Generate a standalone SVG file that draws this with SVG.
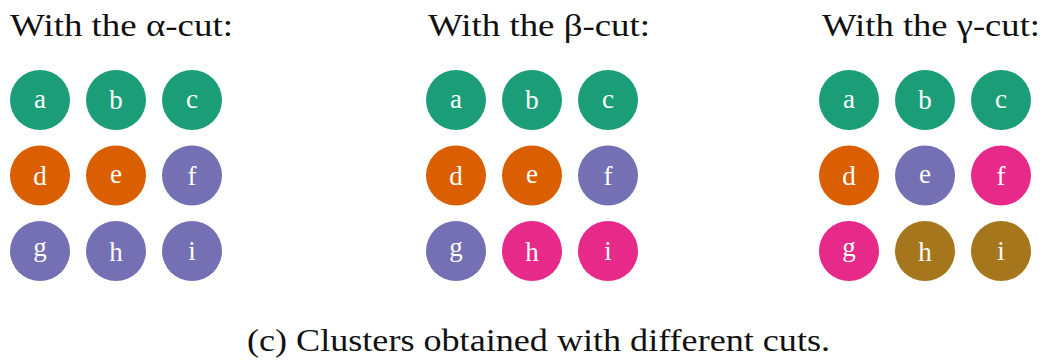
<svg xmlns="http://www.w3.org/2000/svg" width="1051" height="360" viewBox="0 0 1051 360">
<style>
.t{font-family:"Liberation Serif","DejaVu Serif",serif;fill:#111;font-size:31px}
.n text{font-family:"Liberation Serif","DejaVu Serif",serif;fill:#fff;font-size:27px;text-anchor:middle}
.g{fill:#1b9e77}.o{fill:#d95f02}.p{fill:#7570b3}.k{fill:#e7298a}.y{fill:#a6761d}
</style>
<rect width="1051" height="360" fill="#fff"/>
<text class="t" x="10" y="36" textLength="223" lengthAdjust="spacingAndGlyphs">With the α-cut:</text>
<text class="t" x="428" y="36" textLength="222" lengthAdjust="spacingAndGlyphs">With the β-cut:</text>
<text class="t" x="822" y="36" textLength="218" lengthAdjust="spacingAndGlyphs">With the γ-cut:</text>
<g id="connectors"/>
<!-- alpha -->
<g id="a1" class="n"><circle class="g" cx="40" cy="100" r="30"/><text x="40" y="108">a</text></g>
<g id="b1" class="n"><circle class="g" cx="116" cy="100" r="30"/><text x="116" y="109">b</text></g>
<g id="c1" class="n"><circle class="g" cx="192" cy="100" r="30"/><text x="192" y="108">c</text></g>
<g id="d1" class="n"><circle class="o" cx="40" cy="175.5" r="30"/><text x="40" y="185">d</text></g>
<g id="e1" class="n"><circle class="o" cx="116" cy="175.5" r="30"/><text x="116" y="183">e</text></g>
<g id="f1" class="n"><circle class="p" cx="192" cy="175.5" r="30"/><text x="192" y="185">f</text></g>
<g id="g1" class="n"><circle class="p" cx="40" cy="251" r="30"/><text x="40" y="256">g</text></g>
<g id="h1" class="n"><circle class="p" cx="116" cy="251" r="30"/><text x="116" y="261">h</text></g>
<g id="i1" class="n"><circle class="p" cx="192" cy="251" r="30"/><text x="192" y="260">i</text></g>
<!-- beta -->
<g id="a2" class="n"><circle class="g" cx="456" cy="100" r="30"/><text x="456" y="108">a</text></g>
<g id="b2" class="n"><circle class="g" cx="532" cy="100" r="30"/><text x="532" y="109">b</text></g>
<g id="c2" class="n"><circle class="g" cx="608" cy="100" r="30"/><text x="608" y="108">c</text></g>
<g id="d2" class="n"><circle class="o" cx="456" cy="175.5" r="30"/><text x="456" y="185">d</text></g>
<g id="e2" class="n"><circle class="o" cx="532" cy="175.5" r="30"/><text x="532" y="183">e</text></g>
<g id="f2" class="n"><circle class="p" cx="608" cy="175.5" r="30"/><text x="608" y="185">f</text></g>
<g id="g2" class="n"><circle class="p" cx="456" cy="251" r="30"/><text x="456" y="256">g</text></g>
<g id="h2" class="n"><circle class="k" cx="532" cy="251" r="30"/><text x="532" y="261">h</text></g>
<g id="i2" class="n"><circle class="k" cx="608" cy="251" r="30"/><text x="608" y="260">i</text></g>
<!-- gamma -->
<g id="a3" class="n"><circle class="g" cx="849" cy="100" r="30"/><text x="849" y="108">a</text></g>
<g id="b3" class="n"><circle class="g" cx="925" cy="100" r="30"/><text x="925" y="109">b</text></g>
<g id="c3" class="n"><circle class="g" cx="1001" cy="100" r="30"/><text x="1001" y="108">c</text></g>
<g id="d3" class="n"><circle class="o" cx="849" cy="175.5" r="30"/><text x="849" y="185">d</text></g>
<g id="e3" class="n"><circle class="p" cx="925" cy="175.5" r="30"/><text x="925" y="183">e</text></g>
<g id="f3" class="n"><circle class="k" cx="1001" cy="175.5" r="30"/><text x="1001" y="185">f</text></g>
<g id="g3" class="n"><circle class="k" cx="849" cy="251" r="30"/><text x="849" y="256">g</text></g>
<g id="h3" class="n"><circle class="y" cx="925" cy="251" r="30"/><text x="925" y="261">h</text></g>
<g id="i3" class="n"><circle class="y" cx="1001" cy="251" r="30"/><text x="1001" y="260">i</text></g>
<text class="t" x="247" y="351" textLength="583" lengthAdjust="spacingAndGlyphs">(c) Clusters obtained with different cuts.</text>
</svg>
